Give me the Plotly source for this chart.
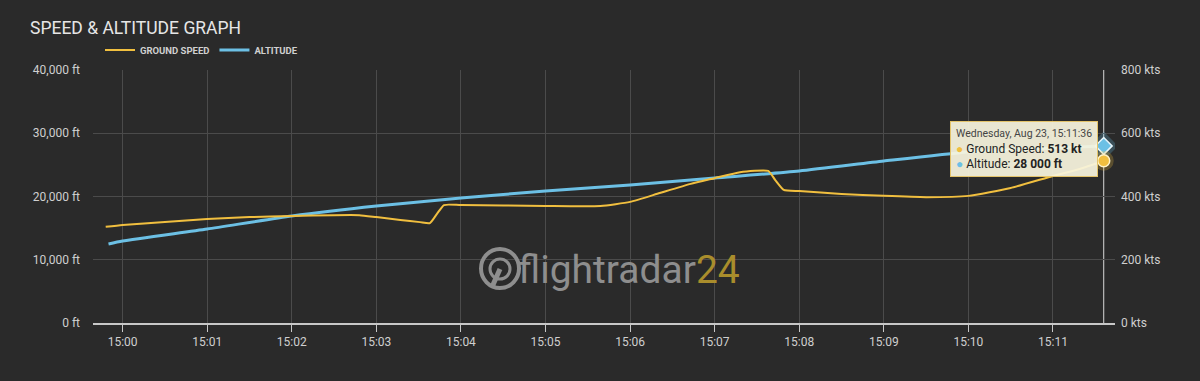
import plotly.graph_objects as go

# ---- data ----
speed_times = ["2023-08-23 14:59:48", "2023-08-23 15:00:00", "2023-08-23 15:00:30", "2023-08-23 15:01:00",
               "2023-08-23 15:01:30", "2023-08-23 15:02:00", "2023-08-23 15:02:30", "2023-08-23 15:02:48",
               "2023-08-23 15:03:00", "2023-08-23 15:03:17", "2023-08-23 15:03:31", "2023-08-23 15:03:38",
               "2023-08-23 15:03:43", "2023-08-23 15:03:48", "2023-08-23 15:04:00", "2023-08-23 15:05:00",
               "2023-08-23 15:05:39", "2023-08-23 15:06:00", "2023-08-23 15:06:21", "2023-08-23 15:06:43",
               "2023-08-23 15:07:00", "2023-08-23 15:07:18", "2023-08-23 15:07:38", "2023-08-23 15:07:43",
               "2023-08-23 15:07:49", "2023-08-23 15:08:00", "2023-08-23 15:08:30", "2023-08-23 15:09:00",
               "2023-08-23 15:09:30", "2023-08-23 15:10:00", "2023-08-23 15:10:30", "2023-08-23 15:11:00",
               "2023-08-23 15:11:19", "2023-08-23 15:11:36"]
ground_speed_kts = [304, 310, 319, 329, 335, 338, 341, 341, 335, 326, 319, 316, 345, 373, 373, 370,
                    370, 383, 411, 440, 458, 477, 481, 452, 421, 417, 408, 402, 398, 402, 427, 465,
                    487, 513]

alt_times = ["2023-08-23 14:59:50", "2023-08-23 15:00:00", "2023-08-23 15:01:00", "2023-08-23 15:02:00",
             "2023-08-23 15:03:00", "2023-08-23 15:04:00", "2023-08-23 15:05:00", "2023-08-23 15:06:00",
             "2023-08-23 15:07:00", "2023-08-23 15:08:00", "2023-08-23 15:09:00", "2023-08-23 15:10:00",
             "2023-08-23 15:11:00", "2023-08-23 15:11:36"]
altitude_ft = [12490, 12960, 14860, 16920, 18500, 19760, 20870, 21820, 22920, 24030, 25610, 27040,
               27670, 28000]

x_range = ["2023-08-23 14:59:39", "2023-08-23 15:11:44"]
alt_ticks = [0, 10000, 20000, 30000, 40000]
alt_tick_labels = ["0 ft", "10,000 ft", "20,000 ft", "30,000 ft", "40,000 ft"]
speed_ticks = [0, 200, 400, 600, 800]
speed_tick_labels = ["0 kts", "200 kts", "400 kts", "600 kts", "800 kts"]

hover_time = speed_times[-1]
hover_label = "Wednesday, Aug 23, 15:11:36"

SPEED_C = "#f1bf3f"
ALT_C = "#6cc0e5"
BG = "#2a2a2a"
GRID = "#4b4b4b"
TXT = "#cfcfcf"

fig = go.Figure()

fig.add_trace(go.Scatter(x=alt_times, y=altitude_ft, name="ALTITUDE", mode="lines",
                         line=dict(color=ALT_C, width=3, shape="spline", smoothing=0.6),
                         yaxis="y"))
fig.add_trace(go.Scatter(x=speed_times, y=ground_speed_kts, name="GROUND SPEED", mode="lines",
                         line=dict(color=SPEED_C, width=2, shape="spline", smoothing=0.5),
                         yaxis="y2"))

# hover markers (halo + marker)
fig.add_trace(go.Scatter(x=[hover_time], y=[altitude_ft[-1]], mode="markers", showlegend=False,
                         marker=dict(symbol="diamond", size=22, color="rgba(108,192,229,0.25)"), yaxis="y"))
fig.add_trace(go.Scatter(x=[hover_time], y=[altitude_ft[-1]], mode="markers", showlegend=False,
                         marker=dict(symbol="diamond", size=13, color=ALT_C, line=dict(color="#e8f6fc", width=1.5)),
                         yaxis="y"))
fig.add_trace(go.Scatter(x=[hover_time], y=[ground_speed_kts[-1]], mode="markers", showlegend=False,
                         marker=dict(symbol="circle", size=20, color="rgba(241,191,63,0.25)"), yaxis="y2"))
fig.add_trace(go.Scatter(x=[hover_time], y=[ground_speed_kts[-1]], mode="markers", showlegend=False,
                         marker=dict(symbol="circle", size=12, color=SPEED_C, line=dict(color="#fff3c8", width=1.5)),
                         yaxis="y2"))

# crosshair
fig.add_shape(type="line", xref="x", yref="paper", x0=hover_time, x1=hover_time, y0=0, y1=1,
              line=dict(color="#d8d8d8", width=1), layer="below")

# tooltip
alt_txt = format(altitude_ft[-1], ",").replace(",", " ")
tip = (f"<span style='font-size:10.5px;color:#444'>{hover_label}</span><br>"
       f"<span style='color:{SPEED_C}'>●</span> Ground Speed: <b>{ground_speed_kts[-1]} kt</b><br>"
       f"<span style='color:{ALT_C}'>●</span> Altitude: <b>{alt_txt} ft</b>")
fig.add_annotation(xref="paper", yref="paper", x=(950 - 93) / 1022, y=(323 - 121) / 253,
                   xanchor="left", yanchor="top", text=tip, showarrow=False, align="left",
                   font=dict(family="Roboto", size=12, color="#222"),
                   bgcolor="rgba(248,244,222,0.93)", bordercolor="#e3c36a", borderwidth=1, borderpad=5)

# watermark
fig.add_annotation(xref="paper", yref="paper", x=(516 - 93) / 1022, y=(323 - 270) / 253,
                   xanchor="left", yanchor="middle", showarrow=False,
                   text="flightradar<span style='color:#a98d2c'>24</span>",
                   font=dict(family="Roboto", size=39, color="#8e8e8e"))
fig.add_shape(type="circle", xref="paper", yref="paper",
              x0=(481 - 93) / 1022, x1=(519 - 93) / 1022, y0=(323 - 288) / 253, y1=(323 - 249) / 253,
              line=dict(color="#8e8e8e", width=4))
fig.add_shape(type="circle", xref="paper", yref="paper",
              x0=(490 - 93) / 1022, x1=(510 - 93) / 1022, y0=(323 - 279) / 253, y1=(323 - 259) / 253,
              line=dict(color="#8e8e8e", width=3))
fig.add_shape(type="line", xref="paper", yref="paper",
              x0=(500 - 93) / 1022, x1=(492 - 93) / 1022, y0=(323 - 269) / 253, y1=(323 - 287) / 253,
              line=dict(color="#8e8e8e", width=5))

fig.update_layout(
    width=1200, height=381,
    margin=dict(l=93, r=85, t=70, b=58),
    paper_bgcolor=BG, plot_bgcolor=BG,
    font=dict(family="Roboto", color=TXT, size=12),
    title=dict(text="SPEED &amp; ALTITUDE GRAPH", x=30 / 1200, xanchor="left", y=1 - 28 / 381, yanchor="middle",
               font=dict(family="Roboto", size=17.5, color="#e6e6e6")),
    showlegend=True,
    legend=dict(orientation="h", x=(100 - 93) / 1022, xanchor="left", y=1 + 20 / 253, yanchor="middle",
                font=dict(family="Roboto", size=9.5, color="#d0d0d0", weight="bold"),
                traceorder="reversed", bgcolor="rgba(0,0,0,0)", itemwidth=30),
    xaxis=dict(type="date", range=x_range, tickformat="%H:%M", dtick=60000,
               tick0="2023-08-23 15:00:00",
               showgrid=True, gridcolor=GRID, gridwidth=1,
               showline=True, linecolor="#c8c8c8", linewidth=1.5,
               ticks="outside", ticklen=7, tickcolor="#c8c8c8",
               tickfont=dict(size=12, color=TXT), zeroline=False),
    yaxis=dict(range=[0, 40000], tickmode="array", tickvals=alt_ticks, ticktext=alt_tick_labels,
               showgrid=True, gridcolor=GRID, zeroline=False, showline=False,
               ticklabelstandoff=12, tickfont=dict(size=12, color=TXT)),
    yaxis2=dict(range=[0, 800], tickmode="array", tickvals=speed_ticks, ticktext=speed_tick_labels,
                overlaying="y", side="right",
                showgrid=False, zeroline=False, showline=False, ticklabelstandoff=5,
                tickfont=dict(size=12, color=TXT)),
)

fig.write_html("out.html")
